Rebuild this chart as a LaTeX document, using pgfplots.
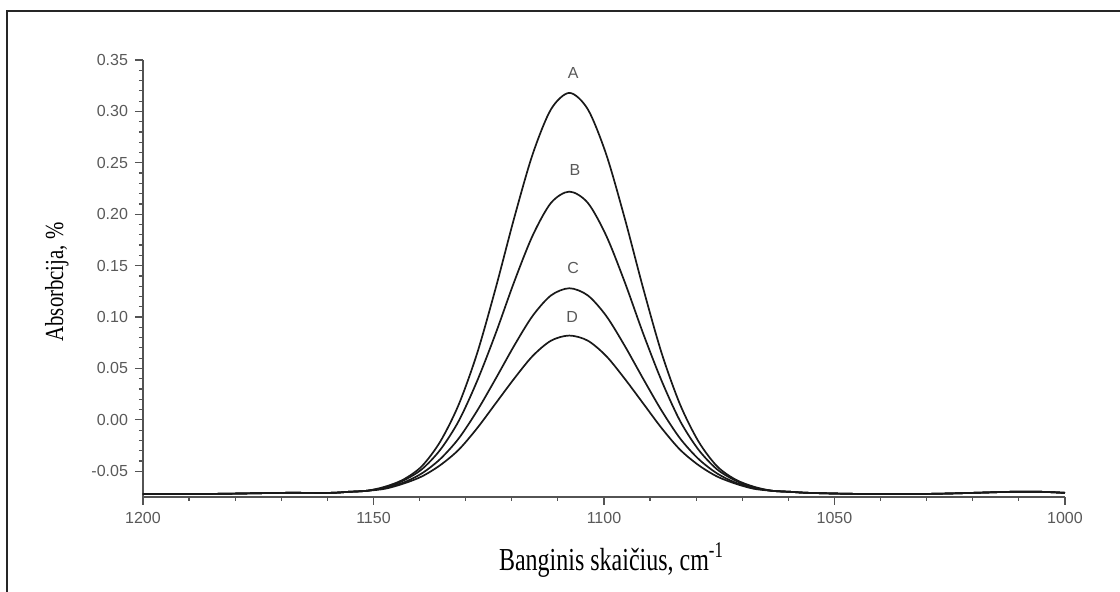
\documentclass[border=0pt]{standalone}
\usepackage{fontspec}
\setmainfont{Liberation Serif}
\setsansfont{Liberation Sans}
\usepackage{graphicx}
\usepackage{pgfplots}
\usepackage{pgfplotstable}
\pgfplotsset{compat=1.18}

\pgfplotstableread{
x A B C D
1200 -0.072 -0.072 -0.072 -0.072
1185 -0.072 -0.072 -0.072 -0.072
1170 -0.071 -0.071 -0.071 -0.071
1159.5 -0.071 -0.071 -0.071 -0.071
1155.5 -0.070 -0.070 -0.070 -0.070
1151.5 -0.069 -0.069 -0.069 -0.069
1147.5 -0.065 -0.066 -0.066 -0.067
1143.5 -0.058 -0.059 -0.061 -0.062
1139.5 -0.045 -0.048 -0.052 -0.055
1135.5 -0.021 -0.029 -0.038 -0.044
1131.5 0.015 -0.001 -0.018 -0.029
1127.5 0.065 0.038 0.009 -0.008
1123.5 0.128 0.084 0.040 0.016
1119.5 0.196 0.134 0.072 0.040
1115.5 0.258 0.179 0.101 0.062
1111.5 0.302 0.211 0.121 0.077
1107.5 0.318 0.222 0.128 0.082
1103.5 0.302 0.211 0.121 0.077
1099.5 0.258 0.179 0.101 0.062
1095.5 0.196 0.134 0.072 0.040
1091.5 0.128 0.084 0.040 0.016
1087.5 0.065 0.038 0.009 -0.008
1083.5 0.015 -0.001 -0.018 -0.029
1079.5 -0.021 -0.029 -0.038 -0.044
1075.5 -0.045 -0.048 -0.052 -0.055
1071.5 -0.058 -0.059 -0.061 -0.062
1067.5 -0.065 -0.066 -0.066 -0.067
1063.5 -0.069 -0.069 -0.069 -0.069
1059.5 -0.070 -0.070 -0.070 -0.070
1055.5 -0.071 -0.071 -0.071 -0.071
1045 -0.072 -0.072 -0.072 -0.072
1030 -0.072 -0.072 -0.072 -0.072
1020 -0.071 -0.071 -0.071 -0.071
1012 -0.070 -0.070 -0.070 -0.070
1005 -0.070 -0.070 -0.070 -0.070
1000 -0.071 -0.071 -0.071 -0.071
}\spectra

\begin{document}
\begin{tikzpicture}
\useasboundingbox (0pt,0pt) rectangle (560pt,296pt);
\draw[line width=1pt, black!85] (3.5pt,0pt) -- (3.5pt,290.5pt) -- (560pt,290.5pt);
\begin{axis}[
  at={(71.5pt,47.5pt)}, anchor=south west,
  scale only axis, width=461pt, height=218.5pt,
  x dir=reverse, xmin=1000, xmax=1200, ymin=-0.075, ymax=0.35,
  axis x line=bottom, axis y line=left,
  axis line style={-, line width=0.9pt, gray!65!black},
  xtick={1000,1050,1100,1150,1200}, minor x tick num=4,
  ytick={-0.05,0,0.05,0.10,0.15,0.20,0.25,0.30,0.35}, minor y tick num=4,
  tick align=outside,
  major tick length=4pt, minor tick length=2pt,
  every tick/.style={gray!65!black, line width=0.6pt},
  ticklabel style={font=\sffamily\fontsize{8}{9}\selectfont, text=gray!70!black},
  /pgf/number format/assume math mode=true,
  yticklabel style={/pgf/number format/.cd, fixed, fixed zerofill, precision=2},
  xticklabel style={/pgf/number format/.cd, fixed, precision=0, 1000 sep={}},
  xlabel={\scalebox{0.75}[1]{\fontsize{16}{18}\selectfont Banginis skaičius, cm\textsuperscript{-1}}},
  ylabel={\scalebox{0.8}[1]{\fontsize{13}{14}\selectfont Absorbcija, \%}},
  xlabel style={at={(axis description cs:0.508,-0.144)}, anchor=center},
  ylabel style={at={(axis description cs:-0.0933,0.492)}, anchor=center},
  clip=false,
]
\addplot[black!90, line width=0.85pt, smooth] table[x=x, y=A] {\spectra};
\addplot[black!90, line width=0.85pt, smooth] table[x=x, y=B] {\spectra};
\addplot[black!90, line width=0.85pt, smooth] table[x=x, y=C] {\spectra};
\addplot[black!90, line width=0.85pt, smooth] table[x=x, y=D] {\spectra};
\node[font=\sffamily\fontsize{8}{9}\selectfont, text=gray!70!black] at (axis cs:1106.7,0.337) {A};
\node[font=\sffamily\fontsize{8}{9}\selectfont, text=gray!70!black] at (axis cs:1106.3,0.243) {B};
\node[font=\sffamily\fontsize{8}{9}\selectfont, text=gray!70!black] at (axis cs:1106.7,0.148) {C};
\node[font=\sffamily\fontsize{8}{9}\selectfont, text=gray!70!black] at (axis cs:1106.9,0.100) {D};
\end{axis}
\end{tikzpicture}
\end{document}
